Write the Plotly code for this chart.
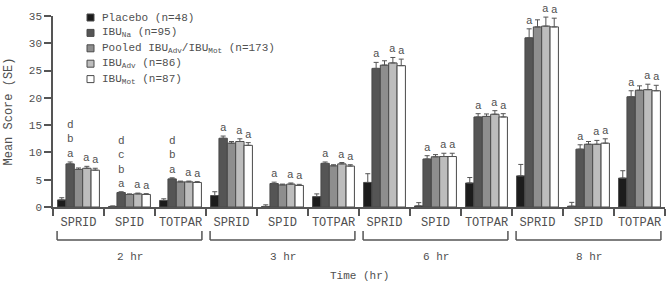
import plotly.graph_objects as go

# ---- data ----
times = ["2 hr", "3 hr", "6 hr", "8 hr"]
measures = ["SPRID", "SPID", "TOTPAR"]

series_names = [
    "Placebo (n=48)",
    "IBU<sub>Na</sub> (n=95)",
    "Pooled IBU<sub>Adv</sub>/IBU<sub>Mot</sub> (n=173)",
    "IBU<sub>Adv</sub> (n=86)",
    "IBU<sub>Mot</sub> (n=87)",
]
series_colors = ["#1c1c1c", "#555555", "#8e8e8e", "#bdbdbd", "#ffffff"]

placebo = [1.3, 0.1, 1.2, 2.1, 0.1, 1.9, 4.5, 0.2, 4.4, 5.7, 0.15, 5.3]
ibu_na = [7.9, 2.65, 5.15, 12.6, 4.3, 8.0, 25.4, 8.8, 16.5, 31.0, 10.6, 20.2]
pooled = [6.9, 2.3, 4.6, 11.7, 4.05, 7.55, 26.0, 9.2, 16.6, 33.0, 11.5, 21.4]
ibu_adv = [7.1, 2.4, 4.6, 12.0, 4.2, 7.9, 26.4, 9.25, 17.0, 33.15, 11.5, 21.5]
ibu_mot = [6.75, 2.3, 4.5, 11.3, 3.95, 7.5, 25.9, 9.25, 16.5, 33.0, 11.7, 21.3]

placebo_se = [0.4, 0.1, 0.3, 0.7, 0.3, 0.5, 1.6, 0.6, 1.0, 2.1, 0.7, 1.35]
ibu_na_se = [0.35, 0.15, 0.2, 0.4, 0.25, 0.25, 1.1, 0.6, 0.6, 1.65, 0.8, 1.1]
pooled_se = [0.25, 0.1, 0.15, 0.3, 0.15, 0.2, 0.8, 0.4, 0.45, 1.3, 0.5, 0.8]
ibu_adv_se = [0.35, 0.15, 0.15, 0.5, 0.2, 0.25, 1.0, 0.6, 0.65, 1.65, 0.7, 1.0]
ibu_mot_se = [0.35, 0.15, 0.15, 0.5, 0.2, 0.25, 1.2, 0.6, 0.6, 1.6, 0.8, 1.0]

# significance letters (listed bottom to top)
placebo_letters = [""] * 12
ibu_na_letters = ["abd", "abcd", "abd", "a", "a", "a", "a", "a", "a", "a", "a", "a"]
pooled_letters = [""] * 12
ibu_adv_letters = ["a"] * 12
ibu_mot_letters = ["a"] * 12

values = [placebo, ibu_na, pooled, ibu_adv, ibu_mot]
errors = [placebo_se, ibu_na_se, pooled_se, ibu_adv_se, ibu_mot_se]
letters = [placebo_letters, ibu_na_letters, pooled_letters, ibu_adv_letters, ibu_mot_letters]

FONT = "Liberation Mono, Courier New, monospace"
TXT = "#505050"
AX = "#555555"

W, H = 666, 284
ML, MR, MT, MB = 53, 1, 16, 77
PW, PH = W - ML - MR, H - MT - MB


def px_x(px):
    return (px - ML) / PW


def px_y(py):
    return (H - MB - py) / PH


n_cat = len(times) * len(measures)
xs = list(range(n_cat))
tick_text = [measures[i % len(measures)] for i in xs]

fig = go.Figure()
for name, col, v, e in zip(series_names, series_colors, values, errors):
    fig.add_trace(go.Bar(
        x=xs, y=v, name=name, showlegend=False,
        marker=dict(color=col, line=dict(color="#4a4a4a", width=1)),
        error_y=dict(type="data", array=e, arrayminus=[0] * len(e), symmetric=False,
                     color="#555555", thickness=1, width=2.5),
    ))

bargap = 0.18
ns = len(values)
bw = (1 - bargap) / ns
annotations = []
for j in range(ns):
    for i in xs:
        lt = letters[j][i]
        if not lt:
            continue
        annotations.append(dict(
            x=i - (1 - bargap) / 2 + bw * (j + 0.5), y=values[j][i] + errors[j][i],
            xref="x", yref="y", text="<br>".join(reversed(list(lt))),
            showarrow=False, yanchor="bottom", yshift=0,
            font=dict(family=FONT, size=11, color=TXT),
        ))

shapes = []
for k, t in enumerate(times):
    x0 = k * len(measures) - 0.42
    x1 = k * len(measures) + len(measures) - 1 + 0.42
    ytop, ybot = px_y(231), px_y(240)
    for (a, b, c, d) in [(x0, ytop, x0, ybot), (x0, ybot, x1, ybot), (x1, ybot, x1, ytop)]:
        shapes.append(dict(type="line", xref="x", yref="paper", x0=a, y0=b, x1=c, y1=d,
                           line=dict(color=AX, width=1.5)))
    annotations.append(dict(
        x=k * len(measures) + (len(measures) - 1) / 2, y=px_y(257), xref="x", yref="paper",
        text=t, showarrow=False, yanchor="middle",
        font=dict(family=FONT, size=11, color=TXT),
    ))

annotations.append(dict(
    x=px_x(359), y=px_y(276), xref="paper", yref="paper", text="Time (hr)", showarrow=False,
    yanchor="middle", font=dict(family=FONT, size=11, color=TXT),
))

# legend (drawn by hand for compact spacing)
for k, (name, col) in enumerate(zip(series_names, series_colors)):
    cy = 17.5 + 15.4 * k
    shapes.append(dict(type="rect", xref="paper", yref="paper",
                       x0=px_x(87), x1=px_x(94), y0=px_y(cy - 3.5), y1=px_y(cy + 3.5),
                       fillcolor=col, line=dict(color="#4a4a4a", width=1)))
    annotations.append(dict(
        x=px_x(100), y=px_y(cy), xref="paper", yref="paper", text=name,
        showarrow=False, xanchor="left", yanchor="middle",
        font=dict(family=FONT, size=11, color=TXT),
    ))

fig.update_layout(
    width=W, height=H,
    margin=dict(l=ML, r=MR, t=MT, b=MB),
    paper_bgcolor="white", plot_bgcolor="white",
    barmode="group", bargap=bargap, bargroupgap=0,
    font=dict(family=FONT, size=11, color=TXT),
    showlegend=False,
    xaxis=dict(
        range=[-0.5, n_cat - 0.5], tickmode="array", tickvals=xs, ticktext=tick_text,
        ticks="outside", ticklen=3, tickcolor="rgba(0,0,0,0)",
        showline=True, linecolor=AX, linewidth=1.5, showgrid=False, zeroline=False,
        minor=dict(tickmode="array", tickvals=[i - 0.5 for i in xs] + [n_cat - 0.5],
                   ticks="outside", ticklen=7, tickcolor=AX, tickwidth=1.5, showgrid=False),
        tickfont=dict(family=FONT, size=12, color=TXT),
    ),
    yaxis=dict(
        range=[0, 35], tickvals=[0, 5, 10, 15, 20, 25, 30, 35],
        ticks="outside", ticklen=7, tickcolor=AX, tickwidth=1.5,
        showline=True, linecolor=AX, linewidth=1.5, showgrid=False, zeroline=False,
        tickfont=dict(family=FONT, size=11, color=TXT),
        title=dict(text="Mean Score (SE)", standoff=14,
                   font=dict(family=FONT, size=12, color=TXT)),
    ),
    annotations=annotations, shapes=shapes,
)

fig.write_html("out.html", config={"displayModeBar": False},
               post_script="document.body.style.margin='0';")
